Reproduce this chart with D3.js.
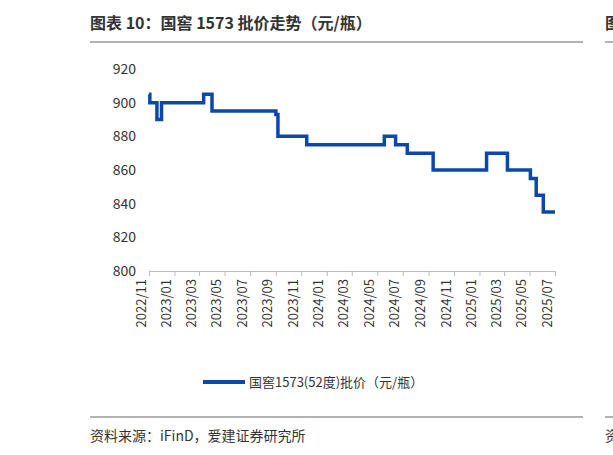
<!DOCTYPE html>
<html><head><meta charset="utf-8">
<script src="https://cdn.jsdelivr.net/npm/d3@7"></script>
<style>body{margin:0;background:#fff}text{font-family:"Noto Sans CJK SC","Noto Sans",sans-serif}</style>
</head><body>
<svg id="c" width="613" height="455"></svg>
<script>
// step price series (元/瓶)
var dates = ['2022-11-01','2022-11-03','2022-11-20','2022-12-01','2023-03-12','2023-04-01','2023-09-01','2023-09-06','2023-11-14','2024-05-18','2024-06-14','2024-07-12','2024-09-12','2025-01-18','2025-03-09','2025-05-03','2025-05-17','2025-06-03','2025-07-01']
var prices = [905,900,890,900,905,895,893,880,875,880,875,870,860,870,860,855,845,835,835]
var yTicks = [800,820,840,860,880,900,920]

var parse = d3.timeParse('%Y-%m-%d')
var data = dates.map((d, i) => ({date: parse(d), v: prices[i]}))
var svg = d3.select('#c')

// header
svg.append('text').attr('x', 90).attr('y', 29).attr('font-size', 16).attr('font-weight', 'bold').attr('fill', '#333').text('图表 10：国窖 1573 批价走势（元/瓶）')
svg.append('text').attr('x', 605).attr('y', 29).attr('font-size', 16).attr('font-weight', 'bold').attr('fill', '#333').text('图')
svg.append('line').attr('x1', 90).attr('x2', 583).attr('y1', 42).attr('y2', 42).attr('stroke', '#666')
svg.append('line').attr('x1', 605).attr('x2', 613).attr('y1', 42).attr('y2', 42).attr('stroke', '#666')

var x = d3.scaleTime().domain([parse('2022-11-01'), parse('2025-07-01')]).range([149, 555])
var y = d3.scaleLinear().domain([800, 920]).range([271, 69])

svg.append('g').attr('transform', 'translate(149,0)')
	.call(d3.axisLeft(y).tickValues(yTicks).tickSize(0).tickPadding(13))
	.call(g => g.select('.domain').remove())
	.selectAll('text').attr('font-size', 14).attr('fill', '#333').attr('font-family', 'Noto Sans')

var xt = d3.timeMonth.every(2).range(parse('2022-11-01'), parse('2025-07-02'))
svg.append('g').attr('transform', 'translate(0,271)')
	.call(d3.axisBottom(x).tickValues(xt).tickSize(5).tickFormat(d3.timeFormat('%Y/%m')))
	.call(g => g.selectAll('line,.domain').attr('stroke', '#bbb'))
	.selectAll('text').attr('font-size', 13).attr('fill', '#333').attr('font-family', 'Noto Sans')
	.attr('transform', 'rotate(-90)').attr('text-anchor', 'end').attr('dx', '-8').attr('dy', '-0.3em').attr('x', 0).attr('y', 0)

svg.append('path').datum(data)
	.attr('d', d3.line().x(d => x(d.date)).y(d => y(d.v)).curve(d3.curveStepAfter))
	.attr('fill', 'none').attr('stroke', '#0d47a8').attr('stroke-width', 3.5)

// legend
svg.append('line').attr('x1', 203).attr('x2', 245).attr('y1', 382).attr('y2', 382).attr('stroke', '#0d47a8').attr('stroke-width', 4)
svg.append('text').attr('x', 249).attr('y', 387).attr('font-size', 13).attr('fill', '#333').text('国窖1573(52度)批价（元/瓶）')

// footer
svg.append('line').attr('x1', 90).attr('x2', 583).attr('y1', 417).attr('y2', 417).attr('stroke', '#666')
svg.append('line').attr('x1', 605).attr('x2', 613).attr('y1', 417).attr('y2', 417).attr('stroke', '#666')
svg.append('text').attr('x', 90).attr('y', 441).attr('font-size', 14).attr('fill', '#333').text('资料来源：iFinD，爱建证券研究所')
svg.append('text').attr('x', 605).attr('y', 441).attr('font-size', 14).attr('fill', '#333').text('资')
</script>
</body></html>
